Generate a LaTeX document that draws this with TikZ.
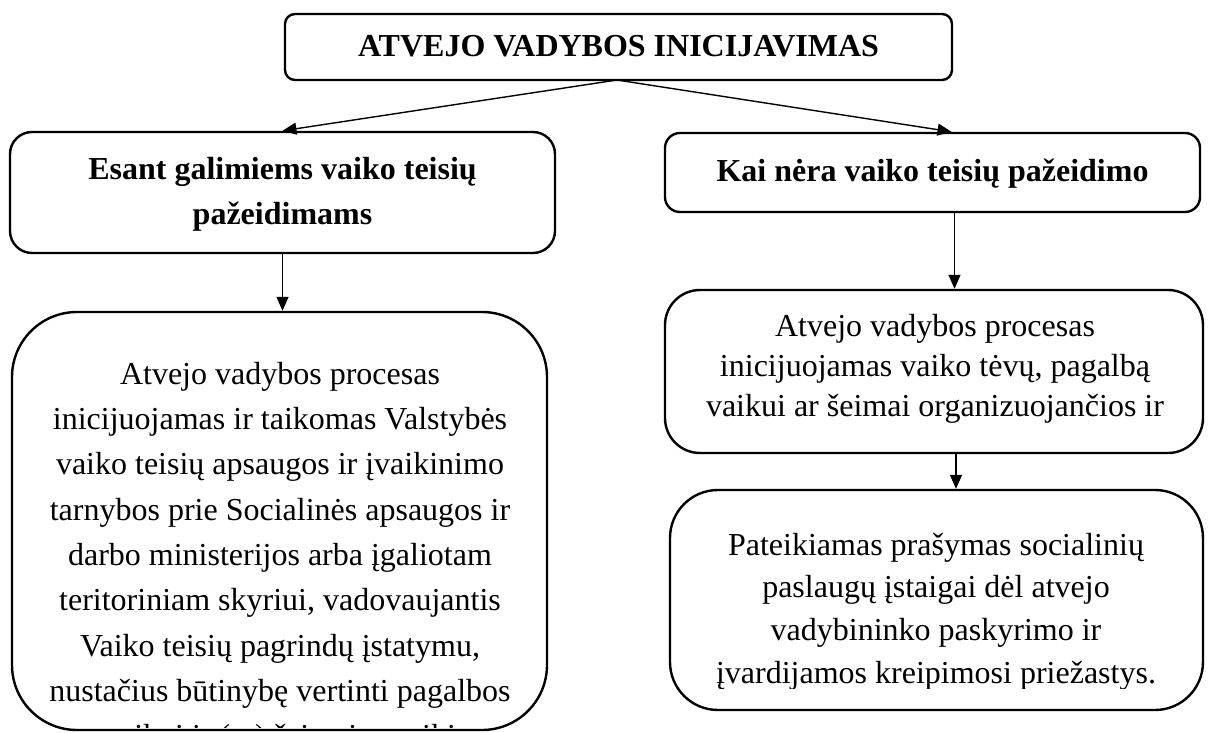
\documentclass[tikz,border=0pt]{standalone}
\usepackage{fontspec}
\setmainfont{Liberation Serif}
\usetikzlibrary{arrows.meta}
\begin{document}
\begin{tikzpicture}[x=1pt,y=-1pt,
  box/.style={draw, line width=2.4pt, inner sep=0pt},
  conn/.style={line width=1.4pt, -{Triangle[length=14pt,width=12pt]}},
  txt/.style={inner sep=0pt, align=center, font=\fontsize{32}{#1}\selectfont},
  btxt/.style={inner sep=0pt, align=center, font=\fontsize{32}{45}\selectfont\bfseries}]
\useasboundingbox (0,0) rectangle (1211,733);
% boxes
\node[box, rounded corners=10pt, minimum width=667pt, minimum height=66pt] (top) at (618.5,47) {};
\node[box, rounded corners=22pt, minimum width=545pt, minimum height=121pt] (l1) at (282.5,192.5) {};
\node[box, rounded corners=65pt, minimum width=535pt, minimum height=418pt] (l2) at (279.5,521) {};
\node[box, rounded corners=15pt, minimum width=535pt, minimum height=79pt] (r1) at (932.5,172.5) {};
\node[box, rounded corners=35pt, minimum width=538pt, minimum height=163pt] (r2) at (934,371.5) {};
\node[box, rounded corners=48pt, minimum width=533pt, minimum height=220pt] (r3) at (936.5,600) {};
% texts
\node[btxt, anchor=base] (ttop) at (618.5,57) {ATVEJO VADYBOS INICIJAVIMAS};
\node[btxt, anchor=north] (tl1) at (282.5,149) {\rule{0pt}{30pt}Esant galimiems vaiko teisių\\pažeidimams};
\node[btxt, anchor=base] (tr1) at (932.5,182) {Kai nėra vaiko teisių pažeidimo};
\begin{scope}
\clip (20,320) rectangle (540,727);
\node[txt=45.3, anchor=north] (tl2) at (280,354) {\rule{0pt}{30pt}Atvejo vadybos procesas\\
inicijuojamas ir taikomas Valstybės\\
vaiko teisių apsaugos ir įvaikinimo\\
tarnybos prie Socialinės apsaugos ir\\
darbo ministerijos arba įgaliotam\\
teritoriniam skyriui, vadovaujantis\\
Vaiko teisių pagrindų įstatymu,\\
nustačius būtinybę vertinti pagalbos\\
vaikui ir (ar) šeimai poreikį};
\end{scope}
\node[txt=40, anchor=north] (tr2) at (935,306) {\rule{0pt}{30pt}Atvejo vadybos procesas\\
inicijuojamas vaiko tėvų, pagalbą\\
vaikui ar šeimai organizuojančios ir};
\begin{scope}
\clip (680,495) rectangle (1195,688);
\node[txt=42.7, anchor=north] (tr3) at (936,525) {\rule{0pt}{30pt}Pateikiamas prašymas socialinių\\
paslaugų įstaigai dėl atvejo\\
vadybininko paskyrimo ir\\
įvardijamos kreipimosi priežastys.};
\end{scope}
% connectors
\coordinate (topb) at (617,80);
\draw[conn] (topb) -- (l1.north);
\draw[conn] (topb) -- ([xshift=19pt]r1.north);
\draw[conn] (l1.south) -- (l1.south |- l2.north);
\draw[conn] ([xshift=22pt]r1.south) -- ([xshift=22pt]r1.south |- r2.north);
\draw[conn] ([xshift=22pt]r2.south) -- ([xshift=22pt]r2.south |- r3.north);
\end{tikzpicture}
\end{document}
